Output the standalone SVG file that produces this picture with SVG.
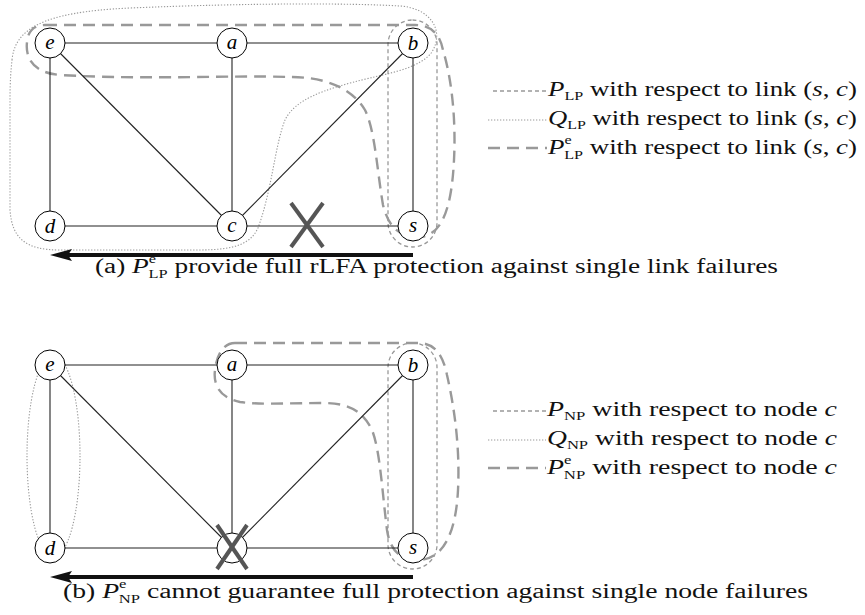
<svg xmlns="http://www.w3.org/2000/svg" width="865" height="615" viewBox="0 0 865 615">
<style>
.edge{stroke:#222;stroke-width:1.1;fill:none}
.node circle{fill:#fff;stroke:#000;stroke-width:1}
.node text{font-family:"Liberation Serif",serif;font-style:italic;font-size:21px;text-anchor:middle}
.fine{fill:none;stroke:#999;stroke-width:1.3;stroke-dasharray:4 3}
.dot{fill:none;stroke:#999;stroke-width:1.1;stroke-dasharray:1.3 1.7}
.long{fill:none;stroke:#999;stroke-width:2.4;stroke-dasharray:12 7}
.cross{stroke:#555;stroke-width:4}
.arrow{stroke:#111;stroke-width:4}
.txt{font-family:"Liberation Serif",serif;font-size:20px;fill:#111}
.cap{font-family:"Liberation Serif",serif;font-size:20px;fill:#111}
.m{font-style:italic}
.s{font-size:12px}
</style>

<!-- ========== (a) ========== -->
<g id="regions-a">
<rect class="fine" x="388" y="20" width="49" height="227" rx="24.5"/>
<path class="dot" d="M 12,60 C 15,30 40,12 130,8 C 250,3 350,3 400,6 C 430,8 445,30 432,52 C 420,68 390,73 370,78 C 320,90 295,100 285,120 C 275,145 272,190 258,228 C 248,250 220,250 190,250 L 60,250 C 25,250 12,238 10,210 L 10,100 C 10,80 11,70 12,60 Z"/>
<path class="long" d="M 45,25 L 415,25 C 432,25 440,35 443,50 C 452,80 456,120 454,160 C 452,200 445,235 420,237 C 398,238 388,225 383,205 C 377,170 375,130 365,110 C 350,85 320,77 290,77 C 230,75 150,80 60,75 C 35,73 25,60 27,42 C 28,30 35,25 45,25 Z"/>
</g>
<g id="connectors-a">
<line class="edge" x1="50" y1="43" x2="232" y2="43"/>
<line class="edge" x1="232" y1="43" x2="413" y2="43"/>
<line class="edge" x1="50" y1="43" x2="50" y2="226"/>
<line class="edge" x1="232" y1="43" x2="232" y2="226"/>
<line class="edge" x1="413" y1="43" x2="413" y2="226"/>
<line class="edge" x1="50" y1="226" x2="232" y2="226"/>
<line class="edge" x1="232" y1="226" x2="413" y2="226"/>
<line class="edge" x1="50" y1="43" x2="232" y2="226"/>
<line class="edge" x1="413" y1="43" x2="232" y2="226"/>
</g>
<g id="a-e" class="node"><circle cx="50" cy="43" r="15"/><text x="50" y="49">e</text></g>
<g id="a-a" class="node"><circle cx="232" cy="43" r="15"/><text x="232" y="49">a</text></g>
<g id="a-b" class="node"><circle cx="413" cy="43" r="15"/><text x="413" y="50">b</text></g>
<g id="a-d" class="node"><circle cx="50" cy="226" r="15"/><text x="50" y="233">d</text></g>
<g id="a-c" class="node"><circle cx="232" cy="226" r="15"/><text x="232" y="232">c</text></g>
<g id="a-s" class="node"><circle cx="413" cy="226" r="15"/><text x="413" y="232">s</text></g>
<g id="a-fail">
<line class="cross" x1="291" y1="203" x2="323" y2="247"/>
<line class="cross" x1="323" y1="203" x2="291" y2="247"/>
</g>
<g id="a-arrow">
<line class="arrow" x1="413" y1="255" x2="66" y2="255"/>
<polygon points="50,255 72,249 68,255 72,261" fill="#111"/>
</g>
<g id="legend-a">
<line class="fine" x1="493" y1="91" x2="547" y2="91"/>
<line class="dot" x1="488" y1="120" x2="547" y2="120"/>
<line class="long" x1="488" y1="148" x2="547" y2="148" stroke-dasharray="11 6"/>
<text class="txt" x="548" y="96" textLength="309" lengthAdjust="spacingAndGlyphs"><tspan class="m">P</tspan><tspan class="s" dy="4">LP</tspan><tspan dy="-4"> with respect to link (</tspan><tspan class="m">s</tspan>, <tspan class="m">c</tspan>)</text>
<text class="txt" x="548" y="125" textLength="309" lengthAdjust="spacingAndGlyphs"><tspan class="m">Q</tspan><tspan class="s" dy="4">LP</tspan><tspan dy="-4"> with respect to link (</tspan><tspan class="m">s</tspan>, <tspan class="m">c</tspan>)</text>
<text class="txt" x="548" y="154" textLength="309" lengthAdjust="spacingAndGlyphs"><tspan class="m">P</tspan><tspan class="s" dy="-10">e</tspan><tspan class="s" dx="-5.5" dy="15">LP</tspan><tspan dy="-5"> with respect to link (</tspan><tspan class="m">s</tspan>, <tspan class="m">c</tspan>)</text>
</g>
<text id="caption-a" class="cap" x="95" y="273" textLength="683" lengthAdjust="spacingAndGlyphs">(a) <tspan class="m">P</tspan><tspan class="s" dy="-10">e</tspan><tspan class="s" dx="-5.5" dy="15">LP</tspan><tspan dy="-5"> provide full rLFA protection against single link failures</tspan></text>

<!-- ========== (b) ========== -->
<g id="regions-b">
<rect class="fine" x="388" y="343" width="49" height="226" rx="24.5"/>
<ellipse class="dot" cx="53.5" cy="456" rx="26.5" ry="101"/>
<path class="long" d="M 235,343 L 418,343 C 435,343 443,355 447,375 C 455,410 460,450 458,490 C 456,530 445,558 420,560 C 400,561 390,550 387,530 C 382,490 380,450 372,430 C 360,405 340,403 320,403 C 290,403 260,405 240,402 C 220,398 213,385 215,370 C 217,352 225,343 235,343 Z"/>
</g>
<g id="connectors-b">
<line class="edge" x1="50" y1="365" x2="232" y2="365"/>
<line class="edge" x1="232" y1="365" x2="413" y2="365"/>
<line class="edge" x1="50" y1="365" x2="50" y2="548"/>
<line class="edge" x1="232" y1="365" x2="232" y2="548"/>
<line class="edge" x1="413" y1="365" x2="413" y2="548"/>
<line class="edge" x1="50" y1="548" x2="232" y2="548"/>
<line class="edge" x1="232" y1="548" x2="413" y2="548"/>
<line class="edge" x1="50" y1="365" x2="232" y2="548"/>
<line class="edge" x1="413" y1="365" x2="232" y2="548"/>
</g>
<g id="b-e" class="node"><circle cx="50" cy="365" r="15"/><text x="50" y="371">e</text></g>
<g id="b-a" class="node"><circle cx="232" cy="365" r="15"/><text x="232" y="371">a</text></g>
<g id="b-b" class="node"><circle cx="413" cy="365" r="15"/><text x="413" y="372">b</text></g>
<g id="b-d" class="node"><circle cx="50" cy="548" r="15"/><text x="50" y="555">d</text></g>
<g id="b-c" class="node"><circle cx="232" cy="548" r="15"/></g>
<g id="b-s" class="node"><circle cx="413" cy="548" r="15"/><text x="413" y="554">s</text></g>
<g id="b-fail">
<line class="cross" x1="217" y1="525" x2="247" y2="569"/>
<line class="cross" x1="247" y1="525" x2="217" y2="569"/>
</g>
<g id="b-arrow">
<line class="arrow" x1="413" y1="577" x2="66" y2="577"/>
<polygon points="50,577 72,571 68,577 72,583" fill="#111"/>
</g>
<g id="legend-b">
<line class="fine" x1="493" y1="411" x2="546" y2="411"/>
<line class="dot" x1="488" y1="440" x2="546" y2="440"/>
<line class="long" x1="488" y1="468" x2="546" y2="468" stroke-dasharray="11 6"/>
<text class="txt" x="547" y="416" textLength="290" lengthAdjust="spacingAndGlyphs"><tspan class="m">P</tspan><tspan class="s" dy="4">NP</tspan><tspan dy="-4"> with respect to node </tspan><tspan class="m">c</tspan></text>
<text class="txt" x="547" y="445" textLength="290" lengthAdjust="spacingAndGlyphs"><tspan class="m">Q</tspan><tspan class="s" dy="4">NP</tspan><tspan dy="-4"> with respect to node </tspan><tspan class="m">c</tspan></text>
<text class="txt" x="547" y="474" textLength="290" lengthAdjust="spacingAndGlyphs"><tspan class="m">P</tspan><tspan class="s" dy="-10">e</tspan><tspan class="s" dx="-5.5" dy="15">NP</tspan><tspan dy="-5"> with respect to node </tspan><tspan class="m">c</tspan></text>
</g>
<text id="caption-b" class="cap" x="63" y="598" textLength="745" lengthAdjust="spacingAndGlyphs">(b) <tspan class="m">P</tspan><tspan class="s" dy="-10">e</tspan><tspan class="s" dx="-5.5" dy="15">NP</tspan><tspan dy="-5"> cannot guarantee full protection against single node failures</tspan></text>
</svg>
